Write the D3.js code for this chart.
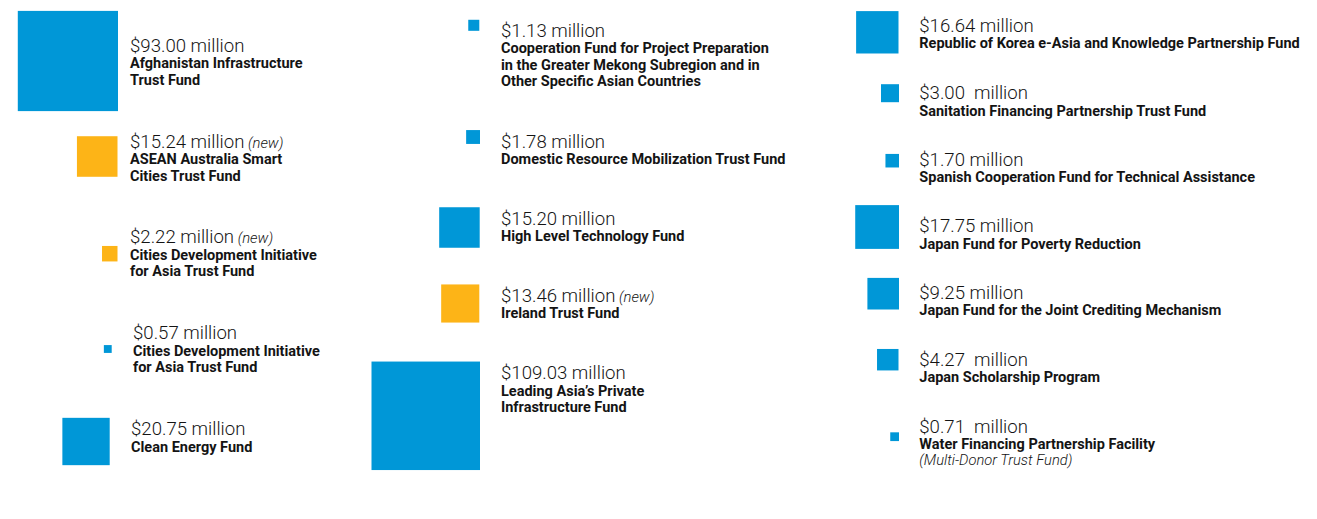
<!DOCTYPE html>
<html>
<head>
<meta charset="utf-8">
<script src="https://cdn.jsdelivr.net/npm/d3@7"></script>
<style>
  html, body { margin: 0; padding: 0; background: #ffffff; }
  svg { display: block; }
  text { font-family: Roboto, "Noto Sans", sans-serif; fill: #141414; white-space: pre; }
  .val { font-size: 18.6px; font-weight: 300; }
  .new { font-size: 14.8px; font-weight: 300; font-style: italic; }
  .name { font-size: 14.5px; font-weight: 700; }
  .note { font-size: 14.7px; font-weight: 300; font-style: italic; }
</style>
</head>
<body>
<svg id="chart" width="1317" height="519"></svg>
<script>
// ---------------- DATA ----------------
const values = [93.00, 15.24, 2.22, 0.57, 20.75,
                1.13, 1.78, 15.20, 13.46, 109.03,
                16.64, 3.00, 1.70, 17.75, 9.25, 4.27, 0.71];
const valueLabels = ["$93.00 million", "$15.24 million", "$2.22 million", "$0.57 million", "$20.75 million",
                     "$1.13 million", "$1.78 million", "$15.20 million", "$13.46 million", "$109.03 million",
                     "$16.64 million", "$3.00  million", "$1.70 million", "$17.75 million", "$9.25 million",
                     "$4.27  million", "$0.71  million"];
const status = ["existing", "new", "new", "existing", "existing",
                "existing", "existing", "existing", "new", "existing",
                "existing", "existing", "existing", "existing", "existing", "existing", "existing"];
const fundNames = [
  ["Afghanistan Infrastructure", "Trust Fund"],
  ["ASEAN Australia Smart", "Cities Trust Fund"],
  ["Cities Development Initiative", "for Asia Trust Fund"],
  ["Cities Development Initiative", "for Asia Trust Fund"],
  ["Clean Energy Fund"],
  ["Cooperation Fund for Project Preparation", "in the Greater Mekong Subregion and in", "Other Specific Asian Countries"],
  ["Domestic Resource Mobilization Trust Fund"],
  ["High Level Technology Fund"],
  ["Ireland Trust Fund"],
  ["Leading Asia\u2019s Private", "Infrastructure Fund"],
  ["Republic of Korea e-Asia and Knowledge Partnership Fund"],
  ["Sanitation Financing Partnership Trust Fund"],
  ["Spanish Cooperation Fund for Technical Assistance"],
  ["Japan Fund for Poverty Reduction"],
  ["Japan Fund for the Joint Crediting Mechanism"],
  ["Japan Scholarship Program"],
  ["Water Financing Partnership Facility"]
];
const notes = ["", "", "", "", "", "", "", "", "", "", "", "", "", "", "", "", "(Multi-Donor Trust Fund)"];

// ---------------- LAYOUT (hand-placed infographic anchors) ----------------
const squareRight = [118, 117.5, 117.5, 111.7, 109.7,
                     479.3, 480, 479.7, 479.3, 480,
                     898.5, 899, 899, 899, 899, 898.5, 899];
const squareMidY  = [61, 156.5, 253.7, 349, 441.5,
                     25.3, 137, 227.5, 303.5, 415.8,
                     32.3, 93.2, 160.7, 227, 293.7, 359.7, 436.7];
const labelX      = [130, 130, 130, 133, 131,
                     501, 501, 501, 501, 501,
                     919.3, 919.3, 919.3, 919.3, 919.3, 919.3, 919.3];
const labelY      = [51.7, 147.7, 243.3, 339.3, 435.3,
                     36.7, 147.7, 225, 301.7, 379.3,
                     31.7, 99.3, 165.7, 232.3, 299, 365.7, 432.7];

const items = values.map((v, i) => ({
  value: v, label: valueLabels[i], status: status[i], lines: fundNames[i], note: notes[i],
  right: squareRight[i], my: squareMidY[i], lx: labelX[i], ly: labelY[i]
}));

// ---------------- SCALES ----------------
const side = d3.scaleSqrt().domain([0, d3.max(values)]).range([0, 108.5]);
const color = d3.scaleOrdinal().domain(["existing", "new"]).range(["#0097D7", "#FDB417"]);

const svg = d3.select("#chart");

// squares
svg.append("g").selectAll("rect").data(items).join("rect")
  .attr("x", d => d.right - side(d.value))
  .attr("y", d => d.my - side(d.value) / 2)
  .attr("width", d => side(d.value))
  .attr("height", d => side(d.value))
  .attr("fill", d => color(d.status));

// labels
const g = svg.append("g").selectAll("g").data(items).join("g");

const vt = g.append("text").attr("class", "val")
  .attr("x", d => d.lx).attr("y", d => d.ly);
vt.append("tspan").text(d => d.label);
vt.filter(d => d.status === "new").append("tspan").attr("class", "new").text(" (new)");

g.each(function(d) {
  const sel = d3.select(this);
  d.lines.forEach((line, j) => {
    sel.append("text").attr("class", "name")
      .attr("x", d.lx).attr("y", d.ly + 16.3 + j * 16.6).text(line);
  });
  if (d.note) {
    sel.append("text").attr("class", "note")
      .attr("x", d.lx).attr("y", d.ly + 16.3 + d.lines.length * 16.3).text(d.note);
  }
});
</script>
</body>
</html>
